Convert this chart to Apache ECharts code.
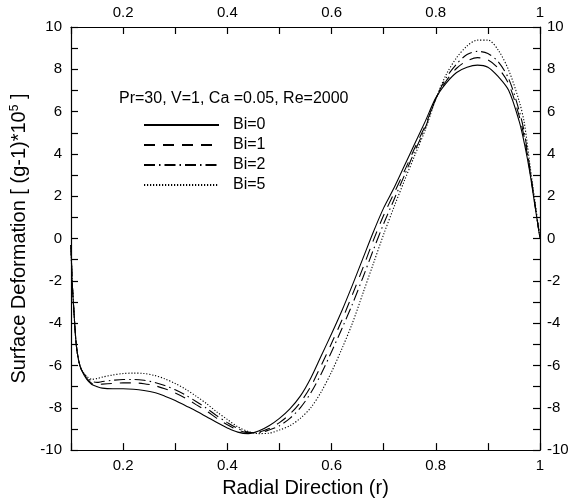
<!DOCTYPE html>
<html>
<head>
<meta charset="utf-8">
<script src="https://cdn.jsdelivr.net/npm/echarts@6/dist/echarts.min.js"></script>
<style>html,body{margin:0;padding:0;background:#fff}#c{width:578px;height:503px}</style>
</head>
<body>
<div id="c"></div>
<script>
const r = [0.1,0.102,0.105,0.11,0.115,0.12,0.13,0.14,0.15,0.16,0.18,0.2,0.22,0.24,0.26,0.28,0.3,0.32,0.34,0.36,0.38,0.4,0.42,0.44,0.46,0.48,0.5,0.52,0.54,0.56,0.58,0.6,0.62,0.64,0.66,0.68,0.7,0.72,0.74,0.76,0.78,0.8,0.82,0.84,0.86,0.88,0.9,0.92,0.94,0.96,0.97,0.98,0.99,1.0];
const bi0 = [-0.3,-1.9,-3.2,-5.0,-5.8,-6.2,-6.65,-6.9,-7.0,-7.07,-7.1,-7.1,-7.12,-7.18,-7.28,-7.45,-7.65,-7.9,-8.15,-8.42,-8.7,-8.95,-9.15,-9.22,-9.1,-8.85,-8.5,-8.05,-7.45,-6.6,-5.55,-4.5,-3.4,-2.2,-0.95,0.3,1.45,2.4,3.45,4.5,5.55,6.65,7.35,7.85,8.1,8.2,8.1,7.65,7.0,5.55,4.5,3.2,1.6,0];
const bi1 = [-0.3,-1.9,-3.2,-5.0,-5.8,-6.2,-6.6,-6.85,-6.9,-6.88,-6.85,-6.82,-6.82,-6.86,-6.95,-7.1,-7.3,-7.55,-7.85,-8.15,-8.5,-8.8,-9.05,-9.18,-9.15,-8.98,-8.7,-8.3,-7.75,-7.0,-6.0,-4.95,-3.85,-2.65,-1.4,-0.1,1.1,2.15,3.2,4.3,5.35,6.6,7.45,8.05,8.4,8.55,8.45,8.05,7.3,5.8,4.75,3.3,1.65,0];
const bi2 = [-0.3,-1.9,-3.2,-5.0,-5.8,-6.2,-6.55,-6.75,-6.8,-6.76,-6.7,-6.66,-6.66,-6.7,-6.8,-6.95,-7.15,-7.4,-7.7,-8.02,-8.38,-8.7,-8.98,-9.15,-9.18,-9.05,-8.85,-8.5,-8.0,-7.3,-6.4,-5.35,-4.25,-3.1,-1.85,-0.55,0.7,1.85,3.0,4.15,5.25,6.6,7.6,8.25,8.7,8.85,8.75,8.35,7.55,6.05,5.0,3.4,1.7,0];
const bi5 = [-0.3,-1.9,-3.2,-5.0,-5.8,-6.2,-6.5,-6.65,-6.62,-6.55,-6.45,-6.38,-6.36,-6.38,-6.47,-6.63,-6.85,-7.12,-7.45,-7.8,-8.2,-8.55,-8.9,-9.12,-9.22,-9.2,-9.05,-8.85,-8.5,-8.0,-7.25,-6.3,-5.2,-4.0,-2.6,-1.2,0.2,1.5,2.75,3.95,5.15,6.6,7.75,8.55,9.1,9.38,9.38,8.9,7.95,6.5,5.45,3.6,1.8,0];
const seriesNames = ['Bi=0','Bi=1','Bi=2','Bi=5'];
const xTicks = [0.2,0.4,0.6,0.8,1];
const yTicks = [-10,-8,-6,-4,-2,0,2,4,6,8,10];
const paramText = 'Pr=30, V=1, Ca =0.05, Re=2000';

const FONT = 'Liberation Sans, Arial, Helvetica, sans-serif';
const chart = echarts.init(document.getElementById('c'), null, {renderer:'canvas'});
const xFmt = v => { const t = Math.round(v*10); return xTicks.some(k => Math.round(k*10) === t) ? String(+v.toFixed(1)) : ''; };
const yFmt = v => yTicks.indexOf(Math.round(v)) >= 0 ? String(Math.round(v)) : '';
const axisCommon = {
  axisLine:{show:true,onZero:false,lineStyle:{color:'#000',width:1.2}},
  axisTick:{show:true,inside:true,length:7,lineStyle:{color:'#000',width:1.2}},
  splitLine:{show:false},
  axisLabel:{color:'#000',fontFamily:FONT,fontSize:15}
};
const xBase = Object.assign({type:'value',min:0.1,max:1,interval:0.1}, axisCommon);
const yBase = Object.assign({type:'value',min:-10,max:10,interval:1}, axisCommon);
const styles = [
  {type:'solid'},
  {type:[11,8]},
  {type:[11,4,1.5,4]},
  {type:[1.2,1.8]}
];
const vals = [bi0,bi1,bi2,bi5];
chart.setOption({
  animation:false,
  backgroundColor:'#fff',
  grid:{left:71,right:38,top:27,bottom:49},
  title:{text:paramText,left:114,top:86,textStyle:{fontFamily:FONT,fontSize:16,fontWeight:'normal',color:'#000'}},
  legend:{orient:'vertical',left:138,top:112,itemWidth:75,itemHeight:14,itemGap:4,
    itemStyle:{opacity:0,borderWidth:0},
    data:seriesNames,textStyle:{fontFamily:FONT,fontSize:16,color:'#000',padding:[0,0,0,9]}},
  xAxis:[
    Object.assign({}, xBase, {position:'bottom',name:'Radial Direction (r)',nameLocation:'middle',nameGap:25,
      nameTextStyle:{fontFamily:FONT,fontSize:20,color:'#000'},axisLabel:Object.assign({},axisCommon.axisLabel,{formatter:xFmt,margin:8})}),
    Object.assign({}, xBase, {position:'top',axisLabel:Object.assign({},axisCommon.axisLabel,{formatter:xFmt,margin:7})})
  ],
  yAxis:[
    Object.assign({}, yBase, {position:'left',name:'{a|Surface Deformation [ (g-1)*10}{sup|5}{a| ]}',nameLocation:'middle',nameGap:38,
      nameTextStyle:{fontFamily:FONT,fontSize:20,color:'#000',rich:{
        a:{fontFamily:FONT,fontSize:20,color:'#000'},
        sup:{fontFamily:FONT,fontSize:12,color:'#000',verticalAlign:'top',padding:[0,0,10,0]}}},
      axisLabel:Object.assign({},axisCommon.axisLabel,{formatter:yFmt,margin:9})}),
    Object.assign({}, yBase, {position:'right',axisLabel:Object.assign({},axisCommon.axisLabel,{formatter:yFmt,margin:7})})
  ],
  series: seriesNames.map((n,i)=>({
    name:n,type:'line',xAxisIndex:0,yAxisIndex:0,smooth:0.3,symbol:'none',
    lineStyle:Object.assign({color:'#000',width:1.1},styles[i]),
    itemStyle:{color:'#000'},
    data:r.map((x,j)=>[x,vals[i][j]])
  }))
});
</script>
</body>
</html>
